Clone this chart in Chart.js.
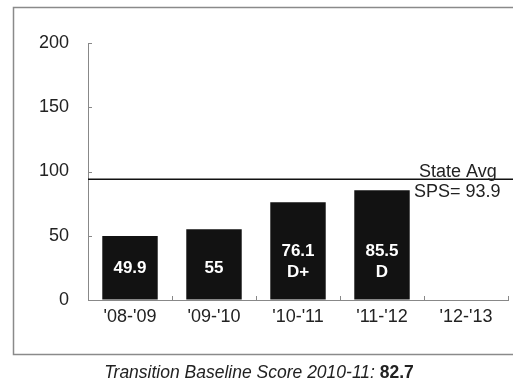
<!DOCTYPE html>
<html>
<head>
<meta charset="utf-8">
<script src="https://cdn.jsdelivr.net/npm/chart.js@4/dist/chart.umd.min.js"></script>
<style>
  html, body { margin: 0; padding: 0; background: #fff; }
  canvas { display: block; }
</style>
</head>
<body>
<canvas id="sps" width="513" height="382"></canvas>
<script>
// chart data
const years = ["'08-'09", "'09-'10", "'10-'11", "'11-'12", "'12-'13"];
const scores = [49.9, 55, 76.1, 85.5, null];
const grades = ['', '', 'D+', 'D', ''];
const stateAvg = 93.9;
const baselineLabel = 'Transition Baseline Score 2010-11: ';
const baselineScore = 82.7;

const FONT = '"Liberation Sans", Arial, sans-serif';

// frame, state avg line, bar labels, caption
const decorations = {
  id: 'decorations',
  beforeDraw(chart) {
    const ctx = chart.ctx;
    ctx.save();
    ctx.fillStyle = '#fff';
    ctx.fillRect(0, 0, chart.width, chart.height);
    ctx.strokeStyle = '#8a8a8a';
    ctx.lineWidth = 1.5;
    ctx.strokeRect(13.5, 7.5, chart.width + 10, 347);
    ctx.restore();
  },
  afterDatasetsDraw(chart) {
    const ctx = chart.ctx;
    const area = chart.chartArea;
    const x = chart.scales.x;
    const y = chart.scales.y;
    ctx.save();

    // small inward tick marks
    ctx.strokeStyle = '#888';
    ctx.lineWidth = 1;
    y.ticks.forEach(t => {
      const py = Math.round(y.getPixelForValue(t.value)) + 0.5;
      ctx.beginPath();
      ctx.moveTo(area.left, py);
      ctx.lineTo(area.left + 4, py);
      ctx.stroke();
    });
    const step = (area.right - area.left) / years.length;
    for (let i = 1; i <= years.length; i++) {
      const px = Math.round(area.left + step * i) + 0.5;
      ctx.beginPath();
      ctx.moveTo(px, area.bottom);
      ctx.lineTo(px, area.bottom - 4);
      ctx.stroke();
    }

    // state average line
    const ay = y.getPixelForValue(stateAvg);
    ctx.strokeStyle = '#111';
    ctx.lineWidth = 1.5;
    ctx.beginPath();
    ctx.moveTo(area.left, ay);
    ctx.lineTo(chart.width, ay);
    ctx.stroke();

    ctx.fillStyle = '#222';
    ctx.font = '18px ' + FONT;
    ctx.textAlign = 'left';
    ctx.textBaseline = 'alphabetic';
    ctx.fillText('State Avg', 419, ay - 2);
    ctx.textBaseline = 'middle';
    ctx.fillText('SPS= ' + stateAvg, 414, ay + 13);

    // labels inside bars
    const base = y.getPixelForValue(0);
    const meta = chart.getDatasetMeta(0);
    ctx.fillStyle = '#fff';
    ctx.font = 'bold 17px ' + FONT;
    ctx.textAlign = 'center';
    ctx.textBaseline = 'middle';
    meta.data.forEach((bar, i) => {
      if (scores[i] == null) return;
      if (grades[i]) {
        ctx.fillText(String(scores[i]), bar.x, base - 49);
        ctx.fillText(grades[i], bar.x, base - 28);
      } else {
        ctx.fillText(String(scores[i]), bar.x, base - 32);
      }
    });

    // caption
    ctx.fillStyle = '#222';
    ctx.textAlign = 'left';
    ctx.font = 'italic 17.5px ' + FONT;
    const w1 = ctx.measureText(baselineLabel).width;
    ctx.font = 'bold 17.5px ' + FONT;
    const w2 = ctx.measureText(String(baselineScore)).width;
    const cx = 259 - (w1 + w2) / 2;
    ctx.font = 'italic 17.5px ' + FONT;
    ctx.fillText(baselineLabel, cx, 373);
    ctx.font = 'bold 17.5px ' + FONT;
    ctx.fillText(String(baselineScore), cx + w1, 373);

    ctx.restore();
  }
};

new Chart(document.getElementById('sps'), {
  type: 'bar',
  data: {
    labels: years,
    datasets: [{
      data: scores,
      backgroundColor: '#121212',
      borderWidth: 0,
      barPercentage: 0.66,
      categoryPercentage: 1
    }]
  },
  options: {
    responsive: false,
    devicePixelRatio: 1,
    animation: false,
    layout: { padding: { top: 43, right: 5, left: 0, bottom: 0 } },
    plugins: {
      legend: { display: false },
      tooltip: { enabled: false }
    },
    scales: {
      x: {
        grid: { drawOnChartArea: false, drawTicks: false },
        border: { color: '#888', width: 1 },
        ticks: { color: '#222', font: { family: FONT, size: 18 }, padding: 6, maxRotation: 0 },
        afterFit(scale) { scale.height = 82; }
      },
      y: {
        min: 0,
        max: 200,
        grid: { drawOnChartArea: false, drawTicks: false },
        border: { color: '#888', width: 1 },
        ticks: { stepSize: 50, color: '#222', font: { family: FONT, size: 18 }, padding: 19 },
        afterFit(scale) { scale.width = 88; }
      }
    }
  },
  plugins: [decorations]
});
</script>
</body>
</html>
